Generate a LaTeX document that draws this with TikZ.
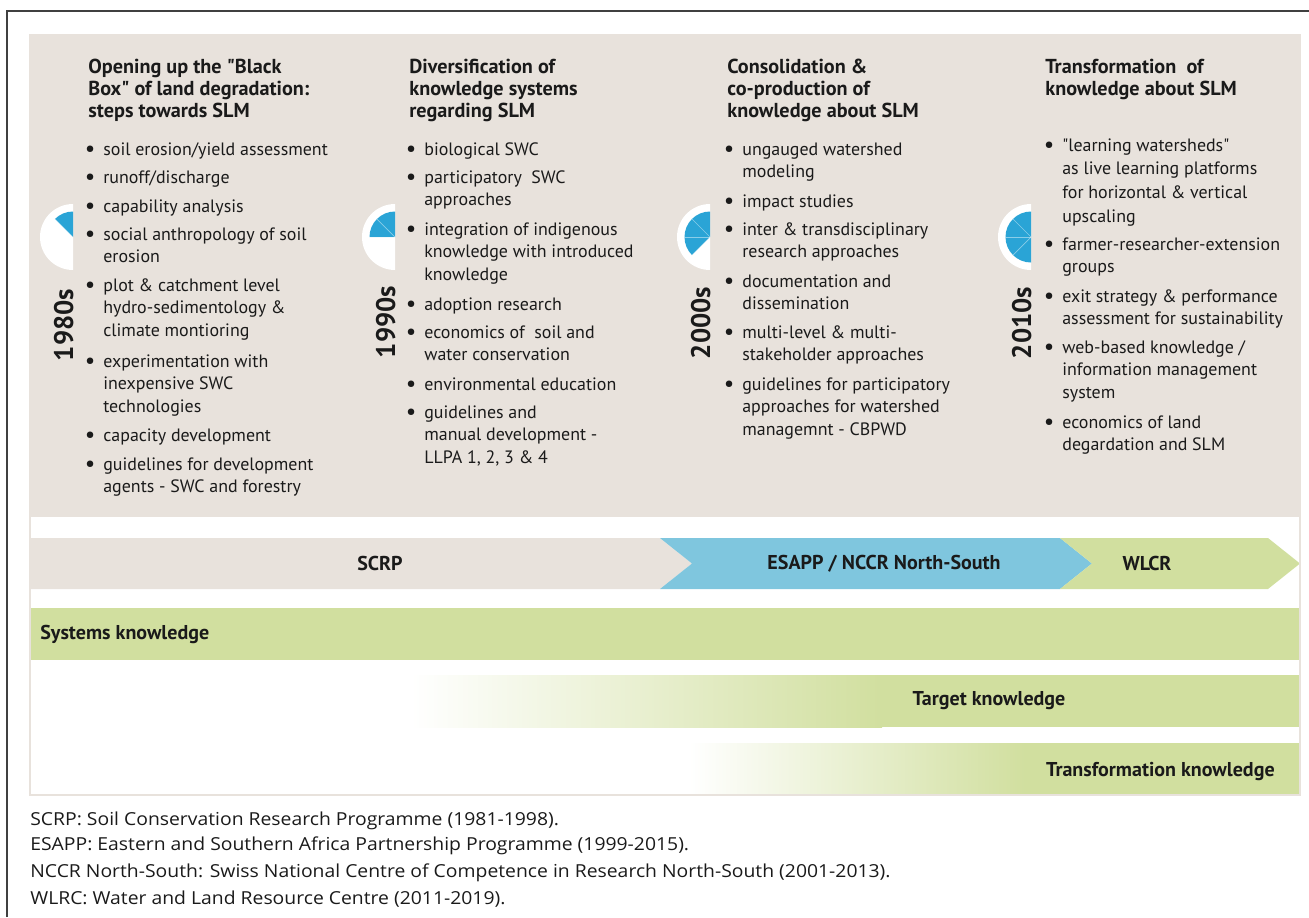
\documentclass[tikz,border=0pt]{standalone}
\usepackage{fontspec}
\setmainfont{PT Sans}[Ligatures=TeXOff]
\newfontfamily\notefont[FakeStretch=1.08]{Open Sans}
\definecolor{panel}{HTML}{E8E2DC}
\definecolor{arrowblue}{HTML}{7FC6DE}
\definecolor{knowgreen}{HTML}{D1DF9F}
\definecolor{pieblue}{HTML}{2AA4D6}
\definecolor{ink}{HTML}{1A1A1A}
\newcommand{\bul}{\makebox[0pt][r]{\raisebox{-0.06em}{\scalebox{1.3}{\textbullet}}\hspace{4.5pt}}}
\newcommand{\lines}[1]{\begin{tabular}[t]{@{}l@{}}#1\end{tabular}}
\newcommand{\qq}{\symbol{34}}

\begin{document}
\begin{tikzpicture}[x=0.02cm, y=-0.02cm,
  every node/.style={inner sep=0pt, text=ink},
  title/.style={anchor=base west,
    font=\bfseries\fontsize{11.5}{12.8}\selectfont},
  entry/.style={anchor=base west,
    font=\fontsize{10.2}{13}\selectfont},
  decade/.style={anchor=base, rotate=90,
    font=\bfseries\fontsize{15.3}{16}\selectfont},
  band/.style={font=\bfseries\fontsize{11.4}{13}\selectfont},
  note/.style={anchor=base west,
    font=\notefont\fontsize{10.2}{12}\selectfont}]
  \useasboundingbox (0,0) rectangle (1309,917);

  % frame and panel
  \draw[line width=0.6pt, black!75] (7,917) -- (7,11) -- (1309,11);
  \fill[panel] (30,35) rectangle (1300,517);

  % decade pies
  \foreach \px/\n in {73/1, 395/2, 710/3, 1031/4} {
    \fill[white] (\px,237) -- ++(0,-33)
      arc[start angle=-90, end angle=-270, radius=33] -- cycle;
    \fill[pieblue] (\px,237) -- ++(-90:25.5)
      arc[start angle=-90, end angle=-90-45*\n, radius=25.5] -- cycle;
    \foreach \a in {-135,-180,-225}
      \draw[white, opacity=0.45, line width=0.4pt] (\px,237) -- ++(\a:25.5);
  }
  \node[decade] (y1) at (73,325) {1980s};
  \node[decade] (y2) at (395,322) {1990s};
  \node[decade] (y3) at (710,323) {2000s};
  \node[decade] (y4) at (1031,323) {2010s};

  % column titles
  \node[title] (t1) at (88,73) {\lines{Opening up the \qq Black\\Box\qq{} of land degradation:\\steps towards SLM}};
  \node[title] (t2) at (409,73) {\lines{Diversification of\\knowledge systems\\regarding SLM}};
  \node[title] (t3) at (727,73) {\lines{Consolidation \&\\co-production of\\knowledge about SLM}};
  \node[title] (t4) at (1045,73) {\lines{Transformation\ \ of\\knowledge about SLM}};

  % 1980s
  \node[entry] (a1) at (103,155) {\bul\lines{soil erosion/yield assessment}};
  \node[entry] (a2) at (103,183) {\bul\lines{runoff/discharge}};
  \node[entry] (a3) at (103,212) {\bul\lines{capability analysis}};
  \node[entry] (a4) at (103,240) {\bul\lines{social anthropology of soil\\erosion}};
  \node[entry] (a5) at (103,291) {\bul\lines{plot \& catchment level\\hydro-sedimentology \&\\climate montioring}};
  \node[entry] (a6) at (103,367) {\bul\lines{experimentation with\\inexpensive SWC\\technologies}};
  \node[entry] (a7) at (103,441) {\bul\lines{capacity development}};
  \node[entry] (a8) at (103,470) {\bul\lines{guidelines for development\\agents - SWC and forestry}};

  % 1990s
  \node[entry] (b1) at (424,155) {\bul\lines{biological SWC}};
  \node[entry] (b2) at (424,183) {\bul\lines{participatory\ \ SWC\\approaches}};
  \node[entry] (b3) at (424,235) {\bul\lines{integration of indigenous\\knowledge with introduced\\knowledge}};
  \node[entry] (b4) at (424,310) {\bul\lines{adoption research}};
  \node[entry] (b5) at (424,338) {\bul\lines{economics of\ \ soil and\\water conservation}};
  \node[entry] (b6) at (424,390) {\bul\lines{environmental education}};
  \node[entry] (b7) at (424,418) {\bul\lines{guidelines and\\manual development -\\LLPA 1, 2, 3 \& 4}};

  % 2000s
  \node[entry] (c1) at (742,155) {\bul\lines{ungauged watershed\\modeling}};
  \node[entry] (c2) at (742,207) {\bul\lines{impact studies}};
  \node[entry] (c3) at (742,235) {\bul\lines{inter \& transdisciplinary\\research approaches}};
  \node[entry] (c4) at (742,287) {\bul\lines{documentation and\\dissemination}};
  \node[entry] (c5) at (742,338) {\bul\lines{multi-level \& multi-\\stakeholder approaches}};
  \node[entry] (c6) at (742,390) {\bul\lines{guidelines for participatory\\approaches for watershed\\managemnt - CBPWD}};

  % 2010s
  \node[entry] (d1) at (1062,151) {\bul\lines{\qq learning watersheds\qq\\[0.5pt]as live learning platforms\\[0.5pt]for horizontal \& vertical\\[0.5pt]upscaling}};
  \node[entry] (d2) at (1062,250) {\bul\lines{farmer-researcher-extension\\groups}};
  \node[entry] (d3) at (1062,302) {\bul\lines{exit strategy \& performance\\assessment for sustainability}};
  \node[entry] (d4) at (1062,353) {\bul\lines{web-based knowledge /\\information management\\system}};
  \node[entry] (d5) at (1062,428) {\bul\lines{economics of land\\degardation and SLM}};

  % programme arrows
  \fill[panel] (30,538) -- (660,538) -- (692,563.5) -- (660,589) -- (30,589) -- cycle;
  \fill[arrowblue] (660,538) -- (1060,538) -- (1092,563.5) -- (1060,589)
    -- (660,589) -- (692,563.5) -- cycle;
  \fill[knowgreen] (1060,538) -- (1268,538) -- (1300,563.5) -- (1268,589)
    -- (1060,589) -- (1092,563.5) -- cycle;
  \node[band] (scrp) at (380,563.5) {SCRP};
  \node[band] (esapp) at (884,563.5) {ESAPP / NCCR North-South};
  \node[band] (wlcr) at (1147,563.5) {WLCR};

  % knowledge bars
  \fill[knowgreen] (30,608) rectangle (1300,660);
  \shade[left color=white, right color=knowgreen] (411,675) rectangle (882,727);
  \fill[knowgreen] (882,675) rectangle (1300,727);
  \shade[left color=white, right color=knowgreen] (689,743) rectangle (1025,795);
  \fill[knowgreen] (1025,743) rectangle (1300,795);
  \draw[panel, line width=0.8pt] (30,35) rectangle (1300,795);
  \node[band, anchor=west] (sys) at (40,634) {Systems knowledge};
  \node[band] (target) at (989,701) {Target knowledge};
  \node[band, anchor=east] (transf) at (1275,771) {Transformation knowledge};

  % footnotes
  \node[note] (n1) at (30,825.5) {SCRP: Soil Conservation Research Programme (1981-1998).};
  \node[note] (n2) at (30,850.5) {ESAPP: Eastern and Southern Africa Partnership Programme (1999-2015).};
  \node[note] (n3) at (30,877.5) {NCCR North-South: Swiss National Centre of Competence in Research North-South (2001-2013).};
  \node[note] (n4) at (30,904.5) {WLRC: Water and Land Resource Centre (2011-2019).};
\end{tikzpicture}
\end{document}
